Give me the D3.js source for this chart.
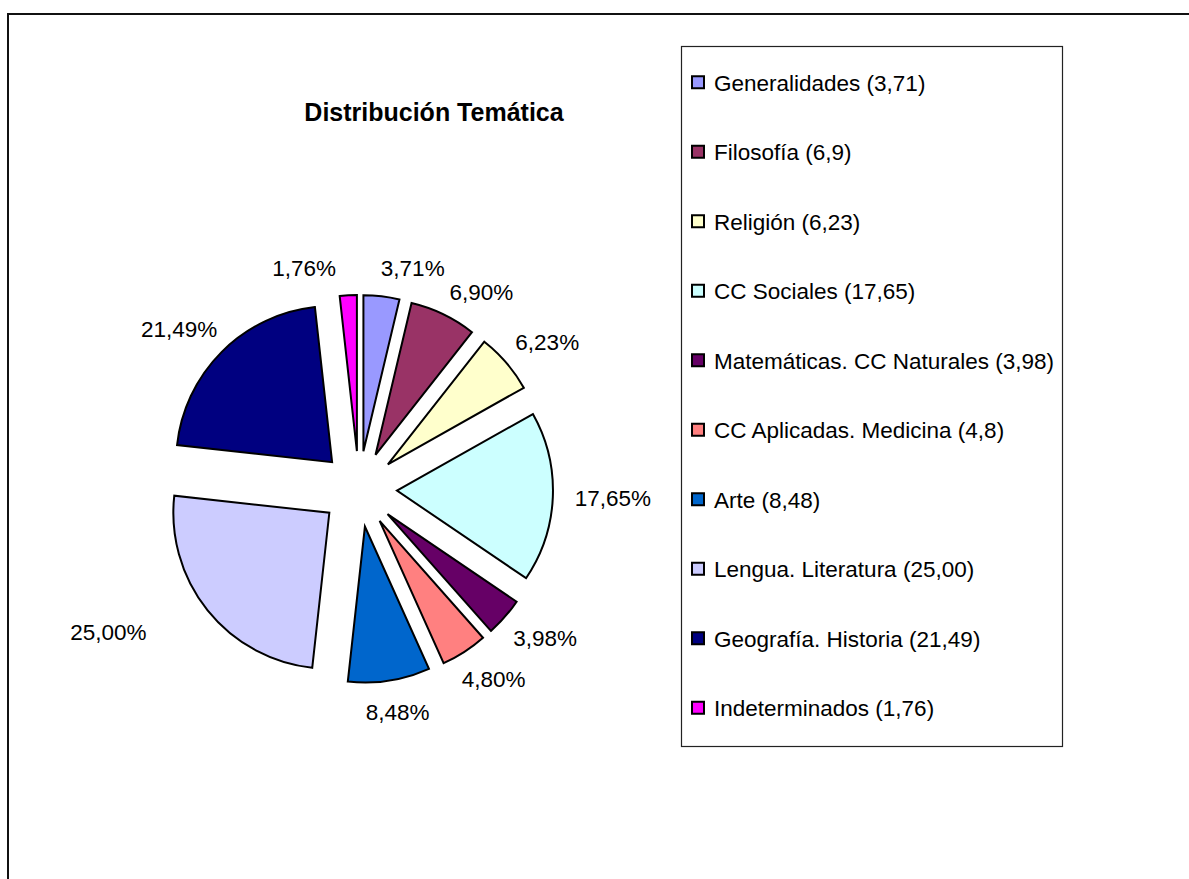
<!DOCTYPE html>
<html>
<head>
<meta charset="utf-8">
<script src="https://cdn.jsdelivr.net/npm/d3@7"></script>
<style>
  body { margin: 0; background: #fff; }
  svg { display: block; font-family: Arial, "Liberation Sans", sans-serif; }
</style>
</head>
<body>
<svg width="1189" height="879"></svg>
<script>
'use strict'

const title = 'Distribución Temática';
const categories = [
  'Generalidades (3,71)',
  'Filosofía (6,9)',
  'Religión (6,23)',
  'CC Sociales (17,65)',
  'Matemáticas. CC Naturales (3,98)',
  'CC Aplicadas. Medicina (4,8)',
  'Arte (8,48)',
  'Lengua. Literatura (25,00)',
  'Geografía. Historia (21,49)',
  'Indeterminados (1,76)'
];
const values = [3.71, 6.9, 6.23, 17.65, 3.98, 4.8, 8.48, 25.00, 21.49, 1.76];
const colors = ['#9999ff', '#993366', '#ffffcc', '#ccffff', '#660066',
  '#ff8080', '#0066cc', '#ccccff', '#000080', '#ff00ff'];

const CX = 359;
const CY = 489;
const RADIUS = 156;
const EXPLODE = 38;
const LABEL_R = 216;
const FONT = 22.5;

const svg = d3.select('svg');
const width = +svg.attr('width');
const height = +svg.attr('height');

// outer frame (only top and left edges are visible)
svg.append('rect')
  .attr('x', 8).attr('y', 14)
  .attr('width', width + 20).attr('height', height + 20)
  .attr('fill', 'none').attr('stroke', '#111').attr('stroke-width', 2);

svg.append('text')
  .attr('x', 434).attr('y', 121)
  .attr('text-anchor', 'middle')
  .style('font-size', '25px').style('font-weight', 'bold')
  .text(title);

const color = d3.scaleOrdinal().domain(categories).range(colors);
const total = d3.sum(values);
const pctFmt = d3.format('.2f');

const pie = d3.pie().sort(null).value(d => d.value);
const arcs = pie(categories.map((c, i) => ({ name: c, value: values[i] })));
const arc = d3.arc().innerRadius(0).outerRadius(RADIUS);

const pieG = svg.append('g').attr('transform', `translate(${CX},${CY})`);
pieG.selectAll('path')
  .data(arcs)
  .join('path')
  .attr('transform', d => {
    const a = (d.startAngle + d.endAngle) / 2;
    return `translate(${Math.sin(a) * EXPLODE},${-Math.cos(a) * EXPLODE})`;
  })
  .attr('d', arc)
  .attr('fill', d => color(d.data.name))
  .attr('stroke', '#000')
  .attr('stroke-width', 2)
  .attr('stroke-linejoin', 'miter');

// percentage labels, pushed apart where they collide
const labels = arcs.map(d => ({
  name: d.data.name,
  a: (d.startAngle + d.endAngle) / 2,
  text: pctFmt(d.value / total * 100).replace('.', ',') + '%'
}));

// the big slice's label sits further out (and rotated a bit) in the original
const tweak = { 'Lengua. Literatura (25,00)': { da: 6.5 * Math.PI / 180, dr: 42 } };
labels.forEach(d => { if (tweak[d.name]) d.a += tweak[d.name].da; });

const labelText = svg.append('g').selectAll('text')
  .data(labels)
  .join('text')
  .attr('text-anchor', 'middle')
  .attr('dy', '0.35em')
  .style('font-size', FONT + 'px')
  .text(d => d.text);

labelText.each(function(d) { d.w = this.getComputedTextLength(); d.h = 20; });

function place(d) {
  const sx = Math.sin(d.a), sy = -Math.cos(d.a);
  const r = LABEL_R + (tweak[d.name] ? tweak[d.name].dr : 0);
  d.x = CX + sx * (r + d.w / 2);
  d.y = CY + sy * (r + d.h / 2);
}
labels.forEach(place);

for (let k = 0; k < 600; k++) {
  let moved = false;
  for (let i = 0; i < labels.length; i++) {
    const p = labels[i];
    const q = labels[(i + 1) % labels.length];
    const ox = (p.w + q.w) / 2 + 44 - Math.abs(p.x - q.x);
    const oy = (p.h + q.h) / 2 + 4 - Math.abs(p.y - q.y);
    if (ox > 0 && oy > 0) {
      p.a -= 0.003; q.a += 0.003;
      place(p); place(q);
      moved = true;
    }
  }
  if (!moved) break;
}

labelText.attr('x', d => d.x).attr('y', d => d.y);

// legend
const legend = svg.append('g');
legend.append('rect')
  .attr('x', 681.5).attr('y', 46.5)
  .attr('width', 381).attr('height', 700)
  .attr('fill', 'none').attr('stroke', '#222').attr('stroke-width', 1.2);

const rowY = d3.scaleBand().domain(categories).range([48, 743]);

const rows = legend.selectAll('g.item')
  .data(categories)
  .join('g')
  .attr('class', 'item')
  .attr('transform', d => `translate(0,${rowY(d) + rowY.bandwidth() / 2})`);

rows.append('rect')
  .attr('x', 692).attr('y', -6.5)
  .attr('width', 12).attr('height', 12)
  .attr('fill', d => color(d))
  .attr('stroke', '#000').attr('stroke-width', 2);

rows.append('text')
  .attr('x', 714).attr('dy', '0.35em')
  .style('font-size', FONT + 'px')
  .text(d => d);
</script>
</body>
</html>
